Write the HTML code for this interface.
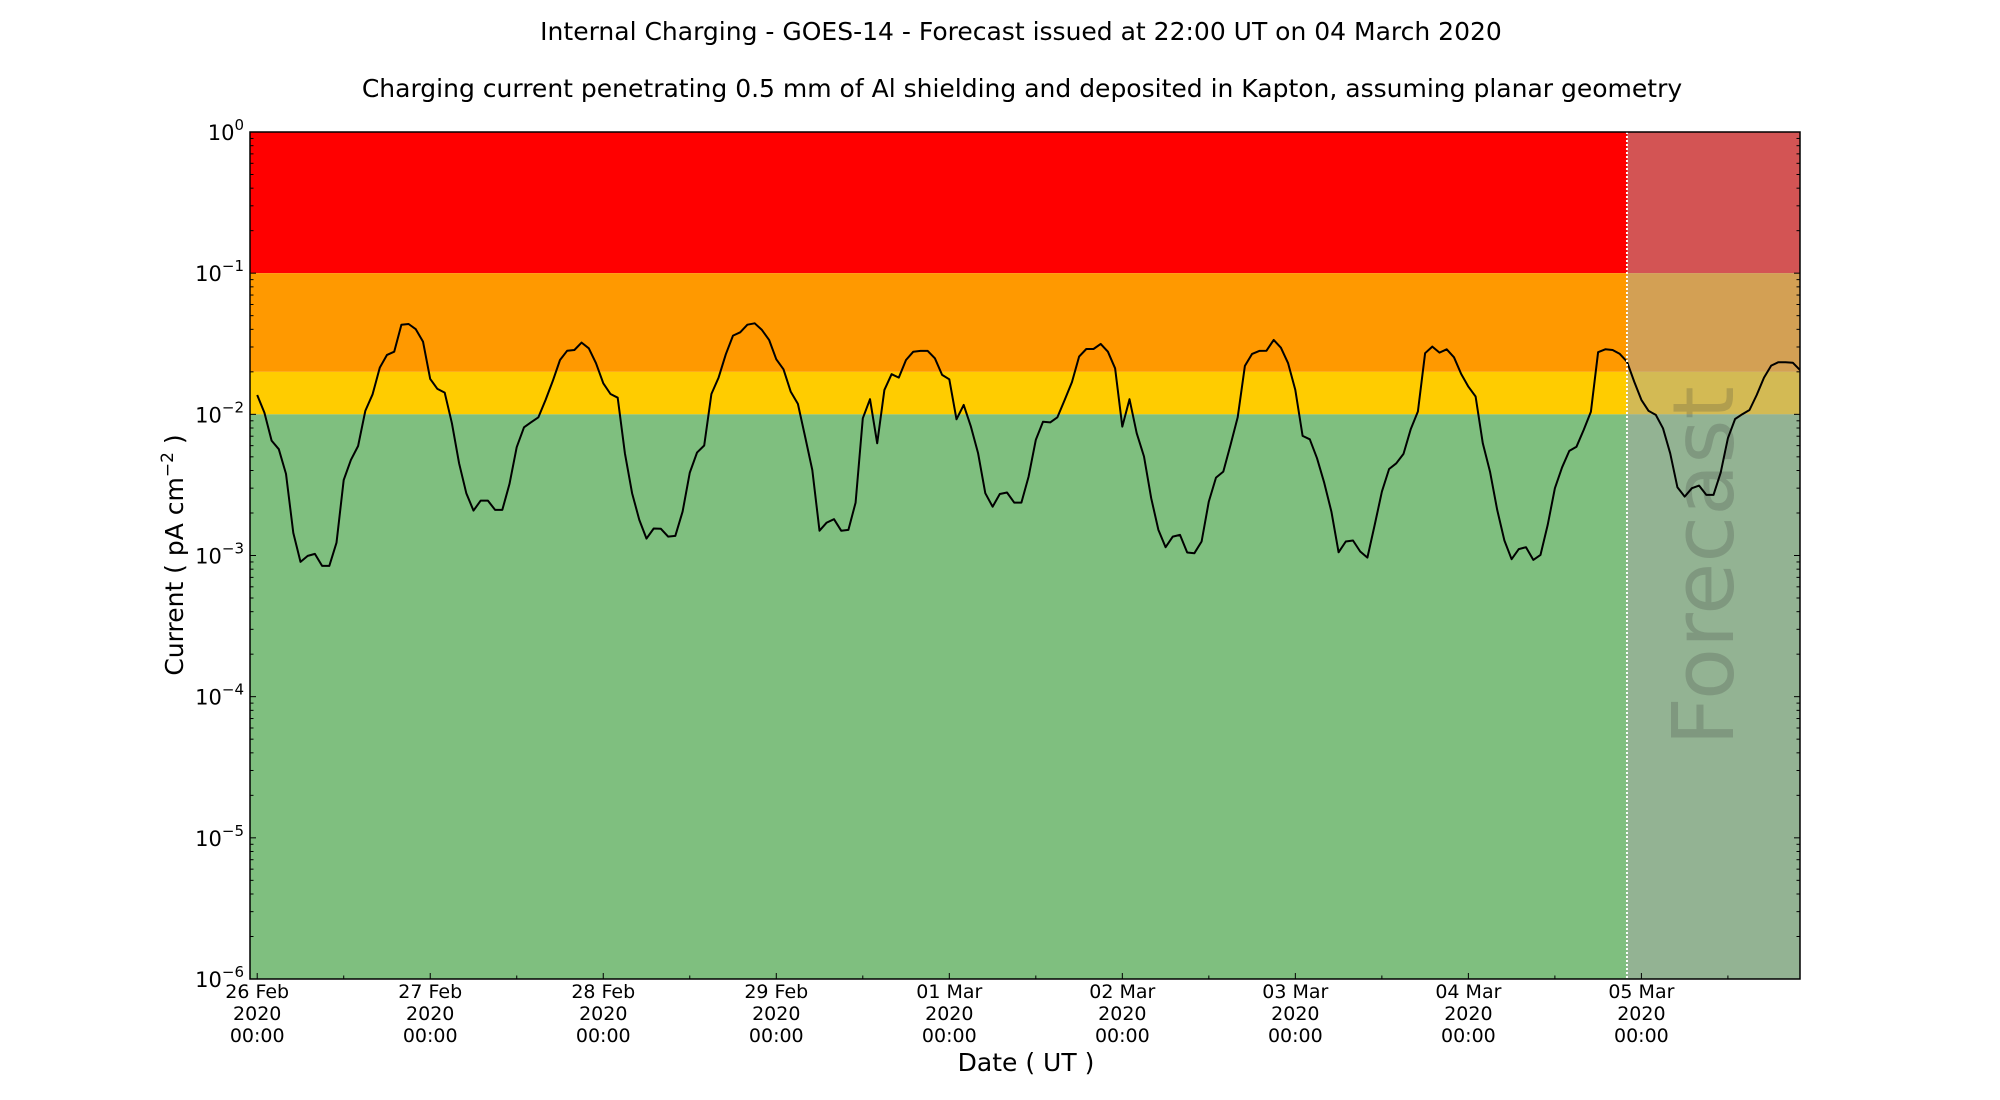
<!DOCTYPE html>
<html><head><meta charset="utf-8"><style>
html,body{margin:0;padding:0;background:#fff;}
svg{display:block;font-family:"DejaVu Sans","Liberation Sans",sans-serif;}
</style></head><body>
<svg id="chart" width="2000" height="1100" viewBox="0 0 2000 1100">
<text x="1021" y="40" font-size="25" text-anchor="middle">Internal Charging - GOES-14 - Forecast issued at 22:00 UT on 04 March 2020</text>
<text x="1022" y="97" font-size="25" text-anchor="middle">Charging current penetrating 0.5 mm of Al shielding and deposited in Kapton, assuming planar geometry</text>
<g id="plot"></g>
<text x="1026" y="1071" font-size="25" text-anchor="middle">Date ( UT )</text>
<text transform="translate(183,555) rotate(-90)" font-size="25" text-anchor="middle">Current ( pA cm<tspan dy="-10" font-size="17">−2</tspan><tspan dy="10"> )</tspan></text>
</svg>
<script>
// ---- data ----
const hours = []; // hourly index from 26 Feb 00:00 UT
const logCurrent = [-1.863,-1.988,-2.186,-2.247,-2.422,-2.84,-3.045,-3.003,-2.989,-3.074,-3.074,-2.909,-2.465,-2.323,-2.224,-1.976,-1.858,-1.669,-1.579,-1.556,-1.365,-1.360,-1.397,-1.485,
-1.749,-1.820,-1.846,-2.063,-2.347,-2.559,-2.682,-2.611,-2.611,-2.677,-2.677,-2.493,-2.233,-2.092,-2.056,-2.021,-1.898,-1.763,-1.615,-1.549,-1.544,-1.492,-1.532,-1.638,
-1.780,-1.856,-1.882,-2.276,-2.559,-2.748,-2.880,-2.809,-2.811,-2.866,-2.861,-2.689,-2.413,-2.271,-2.221,-1.856,-1.740,-1.575,-1.442,-1.419,-1.365,-1.355,-1.402,-1.473,
-1.610,-1.681,-1.839,-1.926,-2.158,-2.394,-2.824,-2.767,-2.743,-2.824,-2.819,-2.625,-2.028,-1.893,-2.205,-1.827,-1.716,-1.740,-1.615,-1.556,-1.551,-1.551,-1.603,-1.721,
-1.752,-2.035,-1.933,-2.087,-2.276,-2.559,-2.654,-2.564,-2.554,-2.625,-2.625,-2.441,-2.181,-2.052,-2.057,-2.021,-1.898,-1.773,-1.591,-1.537,-1.537,-1.501,-1.556,-1.674,
-2.087,-1.893,-2.134,-2.299,-2.594,-2.819,-2.941,-2.866,-2.854,-2.979,-2.984,-2.901,-2.618,-2.448,-2.406,-2.217,-2.021,-1.657,-1.572,-1.551,-1.549,-1.473,-1.528,-1.638,
-1.827,-2.153,-2.177,-2.311,-2.484,-2.689,-2.977,-2.901,-2.894,-2.972,-3.015,-2.783,-2.547,-2.387,-2.347,-2.280,-2.106,-1.98,-1.567,-1.520,-1.563,-1.539,-1.596,-1.714,
-1.804,-1.874,-2.205,-2.406,-2.677,-2.894,-3.026,-2.955,-2.941,-3.031,-2.996,-2.783,-2.523,-2.375,-2.259,-2.229,-2.110,-1.981,-1.560,-1.539,-1.544,-1.572,-1.627,-1.768,
-1.898,-1.976,-2.004,-2.099,-2.276,-2.516,-2.583,-2.523,-2.505,-2.571,-2.571,-2.413,-2.169,-2.033,-1.999,-1.969,-1.863,-1.740,-1.655,-1.631,-1.631,-1.634,-1.686];
for (let i = 0; i < logCurrent.length; i++) hours.push(i);
const dayLabels = ["26 Feb","27 Feb","28 Feb","29 Feb","01 Mar","02 Mar","03 Mar","04 Mar","05 Mar"];
const dayHours = [0,24,48,72,96,120,144,168,192];
const yTickExps = [0,-1,-2,-3,-4,-5,-6];
const bandLow = [-1, -1.69897, -2, -6];
const bandHigh = [0, -1, -1.69897, -2];
const bandColors = ["#ff0000","#ff9900","#ffcc00","#7fbf7f"];
const bandNames = ["band-red","band-orange","band-yellow","band-green"];
const forecastStartHour = 190;
const xDomain = [-1, 214];
const yDomain = [-6, 0];

// ---- scales ----
const L = 250, R = 1800, T = 132, B = 979;
const NS = "http://www.w3.org/2000/svg";
const xs = h => L + (h - xDomain[0]) / (xDomain[1] - xDomain[0]) * (R - L);
const ys = e => B - (e - yDomain[0]) / (yDomain[1] - yDomain[0]) * (B - T);
const plot = document.getElementById('plot');
function mk(tag, attrs, parent) {
  const el = document.createElementNS(NS, tag);
  for (const k in attrs) el.setAttribute(k, attrs[k]);
  (parent || plot).appendChild(el);
  return el;
}
const defs = mk('defs', {});
const cp = mk('clipPath', {id: 'clip'}, defs);
mk('rect', {x: L, y: T, width: R - L, height: B - T}, cp);

for (let i = 0; i < bandLow.length; i++) {
  const r = mk('rect', {x: L, y: ys(bandHigh[i]), width: R - L, height: ys(bandLow[i]) - ys(bandHigh[i]), fill: bandColors[i]});
  
  
}
const fx = xs(forecastStartHour);
const ov = mk('rect', {x: fx, y: T, width: R - fx, height: B - T, fill: "rgba(168,168,168,0.5)"});


const ft = mk('text', {transform: `translate(1733,566) rotate(-90)`, 'font-size': 85, 'text-anchor': 'middle', fill: 'rgba(60,60,60,0.22)'});
ft.textContent = 'Forecast';



let d = '';
for (let i = 0; i < hours.length; i++) d += (i ? 'L' : 'M') + xs(hours[i]).toFixed(1) + ',' + ys(logCurrent[i]).toFixed(1);
const line = mk('path', {d: d, fill: 'none', stroke: '#000', 'stroke-width': 2, 'clip-path': 'url(#clip)', 'stroke-linejoin': 'round'});



const fl = mk('line', {x1: fx, x2: fx, y1: T, y2: B, stroke: '#fff', 'stroke-width': 2, 'stroke-dasharray': '2,2'});



yTickExps.forEach(e => {
  const y = ys(e);
  mk('line', {x1: L, x2: L + 6, y1: y, y2: y, stroke: '#000', 'stroke-width': 1});
  mk('line', {x1: R, x2: R - 6, y1: y, y2: y, stroke: '#000', 'stroke-width': 1});
  const t = mk('text', {x: 244, y: y + 8, 'font-size': 21, 'text-anchor': 'end'});
  
  
  const a = document.createElementNS(NS, 'tspan'); a.textContent = '10'; t.appendChild(a);
  const b = document.createElementNS(NS, 'tspan'); b.setAttribute('dy', '-10'); b.setAttribute('font-size', '15');
  b.textContent = e === 0 ? '0' : '−' + (-e); t.appendChild(b);
  if (e > yDomain[0]) {
    for (let m = 2; m <= 9; m++) {
      const yy = ys(e - 1 + Math.log10(m));
      mk('line', {x1: L, x2: L + 3.5, y1: yy, y2: yy, stroke: '#000', 'stroke-width': 1});
      mk('line', {x1: R, x2: R - 3.5, y1: yy, y2: yy, stroke: '#000', 'stroke-width': 1});
    }
  }
});
dayHours.forEach((h, i) => {
  const x = xs(h);
  mk('line', {x1: x, x2: x, y1: B, y2: B - 6, stroke: '#000', 'stroke-width': 1});
  const xm = xs(h + 12);
  if (xm < R) mk('line', {x1: xm, x2: xm, y1: B, y2: B - 3.5, stroke: '#000', 'stroke-width': 1});
  const t = mk('text', {x: x, y: 998, 'font-size': 19, 'text-anchor': 'middle'});
  
  
  [dayLabels[i], '2020', '00:00'].forEach((s, k) => {
    const ts = document.createElementNS(NS, 'tspan');
    ts.setAttribute('x', x); ts.setAttribute('dy', k ? 22 : 0); ts.textContent = s; t.appendChild(ts);
  });
});
const fr = mk('rect', {x: L, y: T, width: R - L, height: B - T, fill: 'none', stroke: '#000', 'stroke-width': 1.5});


</script>
</body></html>
